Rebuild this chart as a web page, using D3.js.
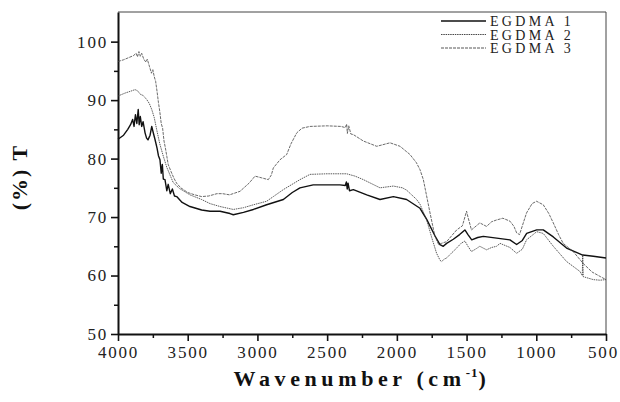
<!DOCTYPE html>
<html>
<head>
<meta charset="utf-8">
<script src="https://cdn.jsdelivr.net/npm/d3@7"></script>
<style>
  body { margin: 0; background: #fff; }
  svg { display: block; }
  .tick text { font-family: "Liberation Serif", "Times New Roman", serif; font-size: 17px; letter-spacing: 1.8px; fill: #222; }
  .label { font-family: "Liberation Serif", "Times New Roman", serif; font-weight: bold; fill: #111; }
  .legend text { font-family: "Liberation Serif", "Times New Roman", serif; font-size: 14px; letter-spacing: 3.3px; fill: #222; }
</style>
</head>
<body>
<svg width="620" height="402"></svg>
<script>
// wavenumber (cm-1), transmittance (%)
var seriesNames = ["EGDMA 1", "EGDMA 2", "EGDMA 3"]

var egdma1 = [
  [4000, 83.3], [3960, 84.0], [3930, 85.0], [3910, 85.8], [3895, 86.7], [3885, 85.5], [3875, 87.5],
  [3865, 86.0], [3855, 88.4], [3848, 85.8], [3840, 87.2], [3830, 85.5], [3820, 86.3], [3806, 84.4],
  [3795, 83.5], [3785, 83.2], [3770, 84.0], [3758, 85.5], [3748, 84.5], [3735, 83.3], [3720, 81.8],
  [3710, 80.5], [3699, 79.8], [3690, 77.5], [3682, 79.0], [3675, 76.5], [3663, 76.4], [3650, 74.5],
  [3640, 75.6], [3625, 74.0], [3610, 74.8], [3595, 73.6], [3579, 73.5], [3540, 72.5], [3484, 71.8],
  [3400, 71.2], [3340, 71.0], [3268, 71.0], [3197, 70.6], [3173, 70.4], [3100, 70.8], [3029, 71.3],
  [2934, 72.1], [2814, 73.0], [2750, 74.2], [2695, 75.0], [2600, 75.5], [2408, 75.5], [2370, 75.4],
  [2362, 76.0], [2356, 74.8], [2350, 75.8], [2340, 74.5], [2312, 74.7], [2216, 73.8], [2121, 73.0],
  [2025, 73.5], [1930, 73.0], [1834, 71.5], [1786, 69.6], [1727, 66.8], [1691, 65.3], [1667, 65.0],
  [1643, 65.5], [1595, 66.2], [1550, 67.0], [1512, 67.8], [1490, 67.0], [1463, 66.1], [1420, 66.5],
  [1380, 66.7], [1284, 66.4], [1189, 66.1], [1141, 65.3], [1100, 66.0], [1069, 67.2], [997, 67.8],
  [950, 67.8], [878, 66.6], [783, 64.7], [667, 63.5], [591, 63.3], [500, 63.0]
]

var egdma2 = [
  [4000, 90.7], [3950, 91.2], [3900, 91.6], [3878, 91.8], [3860, 91.6], [3840, 91.0], [3820, 90.8],
  [3794, 90.1], [3775, 89.4], [3758, 88.4], [3740, 87.0], [3723, 85.0], [3700, 82.5], [3675, 80.4],
  [3650, 78.5], [3620, 76.8], [3604, 75.9], [3560, 74.9], [3484, 73.8], [3400, 73.0], [3340, 72.3],
  [3268, 71.8], [3173, 71.3], [3100, 71.6], [3029, 72.1], [2934, 72.7], [2886, 73.5], [2814, 74.7],
  [2695, 76.4], [2623, 77.3], [2500, 77.4], [2360, 77.4], [2300, 77.0], [2240, 76.4], [2121, 75.0],
  [2025, 75.3], [1960, 75.0], [1930, 74.6], [1858, 73.0], [1834, 72.2], [1786, 69.5], [1750, 66.5],
  [1715, 63.8], [1690, 62.6], [1679, 62.4], [1660, 62.8], [1643, 63.0], [1610, 63.8], [1571, 64.7],
  [1540, 65.5], [1512, 65.9], [1490, 65.0], [1465, 64.1], [1430, 64.6], [1405, 65.0], [1357, 64.4],
  [1320, 64.8], [1285, 65.0], [1260, 65.5], [1189, 64.8], [1141, 63.8], [1100, 64.5], [1070, 66.1],
  [997, 67.5], [950, 67.2], [878, 65.0], [783, 62.4], [687, 60.7], [670, 60.0], [667, 63.5],
  [663, 59.8], [591, 59.3], [543, 59.2], [500, 59.3]
]

var egdma3 = [
  [4000, 96.6], [3960, 96.9], [3920, 97.3], [3890, 97.6], [3870, 98.0], [3860, 97.4], [3850, 98.3],
  [3840, 97.5], [3830, 98.0], [3815, 97.0], [3800, 96.5], [3790, 97.0], [3775, 95.8], [3760, 94.6],
  [3750, 95.2], [3740, 94.0], [3730, 93.2], [3720, 91.5], [3710, 89.6], [3700, 88.0], [3690, 86.0],
  [3680, 85.2], [3670, 83.0], [3660, 81.8], [3650, 80.4], [3640, 79.0], [3620, 77.8], [3600, 76.7],
  [3580, 75.8], [3550, 75.0], [3500, 74.2], [3450, 73.8], [3400, 73.5], [3350, 73.6], [3290, 74.0],
  [3250, 74.0], [3200, 73.8], [3125, 74.4], [3060, 75.8], [3017, 77.0], [2969, 76.7], [2922, 76.4],
  [2900, 77.2], [2886, 78.4], [2838, 79.8], [2790, 80.7], [2760, 82.5], [2718, 84.4], [2680, 85.2],
  [2623, 85.5], [2500, 85.6], [2400, 85.5], [2370, 85.3], [2360, 85.9], [2355, 84.3], [2345, 85.6],
  [2330, 84.2], [2312, 84.1], [2240, 83.0], [2144, 82.1], [2049, 82.7], [1977, 82.1], [1906, 80.7],
  [1860, 79.3], [1834, 78.1], [1810, 76.4], [1762, 70.7], [1727, 66.7], [1700, 65.3], [1680, 65.5],
  [1643, 65.8], [1571, 67.8], [1530, 68.5], [1512, 70.0], [1500, 71.0], [1490, 70.0], [1465, 67.8],
  [1430, 68.5], [1405, 69.0], [1357, 68.4], [1320, 69.2], [1285, 69.5], [1240, 69.8], [1189, 69.3],
  [1160, 68.4], [1141, 67.3], [1120, 67.0], [1100, 68.5], [1070, 70.7], [1030, 72.3], [998, 72.7],
  [950, 72.1], [910, 70.6], [878, 69.0], [840, 67.0], [807, 65.5], [735, 64.1], [665, 62.1],
  [600, 60.6], [539, 59.8], [500, 59.3]
]

var xTicks = [4000, 3500, 3000, 2500, 2000, 1500, 1000, 500]
var yTicks = [50, 60, 70, 80, 90, 100]

function renderChart() {
  var svg = d3.select("svg")
  var plotLeft = 118, plotRight = 606, plotTop = 12, plotBottom = 334

  var x = d3.scaleLinear().domain([4000, 500]).range([plotLeft, plotRight])
  var y = d3.scaleLinear().domain([50, 105.07]).range([plotBottom, plotTop])

  // frame (top and right are thin)
  svg.append("line").attr("x1", plotLeft).attr("x2", plotRight).attr("y1", plotTop).attr("y2", plotTop)
    .attr("stroke", "#444").attr("stroke-width", 1)
  svg.append("line").attr("x1", plotRight).attr("x2", plotRight).attr("y1", plotTop).attr("y2", plotBottom)
    .attr("stroke", "#444").attr("stroke-width", 1)

  // minor ticks
  var xMinor = d3.range(3750, 500, -500)
  var yMinor = d3.range(55, 105, 10)
  svg.append("g").attr("transform", `translate(0,${plotBottom})`)
    .call(d3.axisBottom(x).tickValues(xMinor).tickSize(4).tickFormat(""))
    .call(g => g.select(".domain").remove())
    .selectAll("line").attr("stroke", "#111").attr("stroke-width", 1.5)
  svg.append("g").attr("transform", `translate(${plotLeft},0)`)
    .call(d3.axisLeft(y).tickValues(yMinor).tickSize(4).tickFormat(""))
    .call(g => g.select(".domain").remove())
    .selectAll("line").attr("stroke", "#111").attr("stroke-width", 1.5)

  // major axes
  var xAxis = svg.append("g").attr("transform", `translate(0,${plotBottom})`)
    .call(d3.axisBottom(x).tickValues(xTicks).tickSize(7).tickSizeOuter(0).tickPadding(5).tickFormat(d3.format("d")))
  xAxis.select(".domain").attr("stroke", "#111").attr("stroke-width", 2)
  xAxis.selectAll(".tick line").attr("stroke", "#111").attr("stroke-width", 1.6)
  xAxis.selectAll(".tick text").filter(d => d === 500).attr("dx", "-3px")

  var yAxis = svg.append("g").attr("transform", `translate(${plotLeft},0)`)
    .call(d3.axisLeft(y).tickValues(yTicks).tickSize(7).tickSizeOuter(0).tickPadding(5))
  yAxis.select(".domain").attr("stroke", "#111").attr("stroke-width", 2)
  yAxis.selectAll(".tick line").attr("stroke", "#111").attr("stroke-width", 1.6)
  yAxis.selectAll(".tick text").attr("dx", "2px")

  // curves
  var lineGen = d3.line()
    .x(d => x(d[0]))
    .y(d => y(d[1]))
    .curve(d3.curveLinear)

  var styles = [
    { width: 1.4, color: "#111", dash: null },
    { width: 0.8, color: "#333", dash: "1.5,0.8" },
    { width: 0.8, color: "#444", dash: "3,1" }
  ]

  svg.append("g").attr("id", "curves").selectAll("path")
    .data([egdma1, egdma2, egdma3])
    .enter()
    .append("path")
    .attr("d", d => lineGen(d))
    .attr("fill", "none")
    .attr("stroke", (d, i) => styles[i].color)
    .attr("stroke-width", (d, i) => styles[i].width)
    .attr("stroke-dasharray", (d, i) => styles[i].dash)
    .attr("stroke-linejoin", "round")

  // legend
  var legend = svg.append("g").attr("class", "legend")
    .selectAll("g")
    .data(seriesNames)
    .enter()
    .append("g")
    .attr("transform", (d, i) => `translate(441,${21 + i * 13.5})`)
  legend.append("line")
    .attr("x1", 0).attr("x2", 45).attr("y1", 0).attr("y2", 0)
    .attr("stroke", (d, i) => styles[i].color)
    .attr("stroke-width", (d, i) => i === 0 ? 1.3 : 0.9)
    .attr("stroke-dasharray", (d, i) => styles[i].dash)
  legend.append("text")
    .attr("x", 49).attr("y", 5)
    .text(d => d)

  // axis titles
  var xLabel = svg.append("text").attr("class", "label")
    .attr("x", 362).attr("y", 386)
    .attr("text-anchor", "middle")
    .style("font-size", "22px")
    .style("letter-spacing", "4.6px")
  xLabel.append("tspan").text("Wavenumber (cm")
  xLabel.append("tspan").attr("dy", "-9").style("font-size", "13px").style("letter-spacing", "1px").text("-1")
  xLabel.append("tspan").attr("dy", "9").text(")")

  svg.append("text").attr("class", "label")
    .attr("transform", "translate(27,177) rotate(-90)")
    .attr("text-anchor", "middle")
    .style("font-size", "22px")
    .style("letter-spacing", "2px")
    .text("(%) T")
}

renderChart()
</script>
</body>
</html>
